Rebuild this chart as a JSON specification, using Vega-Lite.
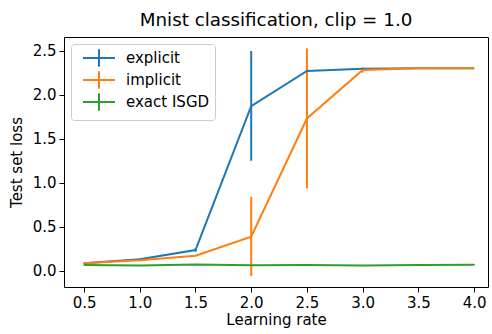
{
  "$schema": "https://vega.github.io/schema/vega-lite/v6.json",
  "width": 424,
  "height": 250,
  "autosize": {"type": "none"},
  "padding": {"left": 64, "top": 37, "right": 4, "bottom": 47},
  "background": "white",
  "title": {"text": "Mnist classification, clip = 1.0", "fontSize": 18.3, "fontWeight": "normal", "font": "DejaVu Sans", "color": "black", "offset": 7},
  "config": {
    "font": "DejaVu Sans",
    "view": {"stroke": "black", "strokeWidth": 1},
    "axis": {
      "grid": false, "domain": false, "tickColor": "black", "tickSize": 5, "tickWidth": 1,
      "labelColor": "black", "labelFontSize": 15, "labelFont": "DejaVu Sans",
      "titleColor": "black", "titleFontSize": 15, "titleFontWeight": "normal", "titleFont": "DejaVu Sans", "labelPadding": 3
    }
  },
  "data": {"values": [
    {"series": "explicit", "lr": 0.5, "loss": 0.084, "lo": 0.079, "hi": 0.089},
    {"series": "explicit", "lr": 1.0, "loss": 0.13, "lo": 0.12, "hi": 0.14},
    {"series": "explicit", "lr": 1.5, "loss": 0.235, "lo": 0.215, "hi": 0.255},
    {"series": "explicit", "lr": 2.0, "loss": 1.87, "lo": 1.25, "hi": 2.497},
    {"series": "explicit", "lr": 2.5, "loss": 2.27, "lo": 2.265, "hi": 2.275},
    {"series": "explicit", "lr": 3.0, "loss": 2.295, "lo": 2.29, "hi": 2.3},
    {"series": "explicit", "lr": 3.5, "loss": 2.3, "lo": 2.298, "hi": 2.302},
    {"series": "explicit", "lr": 4.0, "loss": 2.3, "lo": 2.298, "hi": 2.302},
    {"series": "implicit", "lr": 0.5, "loss": 0.085, "lo": 0.08, "hi": 0.09},
    {"series": "implicit", "lr": 1.0, "loss": 0.12, "lo": 0.112, "hi": 0.128},
    {"series": "implicit", "lr": 1.5, "loss": 0.17, "lo": 0.162, "hi": 0.178},
    {"series": "implicit", "lr": 2.0, "loss": 0.386, "lo": -0.06, "hi": 0.84},
    {"series": "implicit", "lr": 2.5, "loss": 1.73, "lo": 0.936, "hi": 2.527},
    {"series": "implicit", "lr": 3.0, "loss": 2.28, "lo": 2.25, "hi": 2.31},
    {"series": "implicit", "lr": 3.5, "loss": 2.3, "lo": 2.298, "hi": 2.302},
    {"series": "implicit", "lr": 4.0, "loss": 2.3, "lo": 2.298, "hi": 2.302},
    {"series": "exact ISGD", "lr": 0.5, "loss": 0.065, "lo": 0.06, "hi": 0.07},
    {"series": "exact ISGD", "lr": 1.0, "loss": 0.06, "lo": 0.055, "hi": 0.065},
    {"series": "exact ISGD", "lr": 1.5, "loss": 0.072, "lo": 0.067, "hi": 0.077},
    {"series": "exact ISGD", "lr": 2.0, "loss": 0.063, "lo": 0.058, "hi": 0.068},
    {"series": "exact ISGD", "lr": 2.5, "loss": 0.065, "lo": 0.06, "hi": 0.07},
    {"series": "exact ISGD", "lr": 3.0, "loss": 0.06, "lo": 0.055, "hi": 0.065},
    {"series": "exact ISGD", "lr": 3.5, "loss": 0.065, "lo": 0.06, "hi": 0.07},
    {"series": "exact ISGD", "lr": 4.0, "loss": 0.068, "lo": 0.063, "hi": 0.073}
  ]},
  "encoding": {
    "x": {"field": "lr", "type": "quantitative", "title": "Learning rate",
      "scale": {"domain": [0.32, 4.125], "nice": false, "zero": false},
      "axis": {"values": [0.5, 1.0, 1.5, 2.0, 2.5, 3.0, 3.5, 4.0], "format": ".1f", "titlePadding": 2}},
    "color": {"field": "series", "type": "nominal",
      "scale": {"domain": ["explicit", "implicit", "exact ISGD"], "range": ["#1f77b4", "#ff7f0e", "#2ca02c"]},
      "legend": {"title": null, "orient": "top-left", "offset": 7, "fillColor": "white", "strokeColor": "#cccccc",
        "cornerRadius": 3, "padding": 5, "labelFontSize": 15, "labelColor": "black", "labelFont": "DejaVu Sans",
        "symbolType": "M-2,0H2M0,-1.1V1.1", "symbolSize": 256, "symbolStrokeWidth": 2, "symbolFillColor": "transparent",
        "rowPadding": -4, "labelOffset": 18, "symbolOffset": 14}}
  },
  "layer": [
    {
      "mark": {"type": "rule", "strokeWidth": 2},
      "encoding": {
        "y": {"field": "lo", "type": "quantitative"},
        "y2": {"field": "hi"}
      }
    },
    {
      "mark": {"type": "line", "strokeWidth": 2},
      "encoding": {
        "y": {"field": "loss", "type": "quantitative", "title": "Test set loss",
          "scale": {"domain": [-0.185, 2.656], "nice": false, "zero": false},
          "axis": {"values": [0, 0.5, 1.0, 1.5, 2.0, 2.5], "format": ".1f", "titlePadding": 8}}
      }
    }
  ]
}
